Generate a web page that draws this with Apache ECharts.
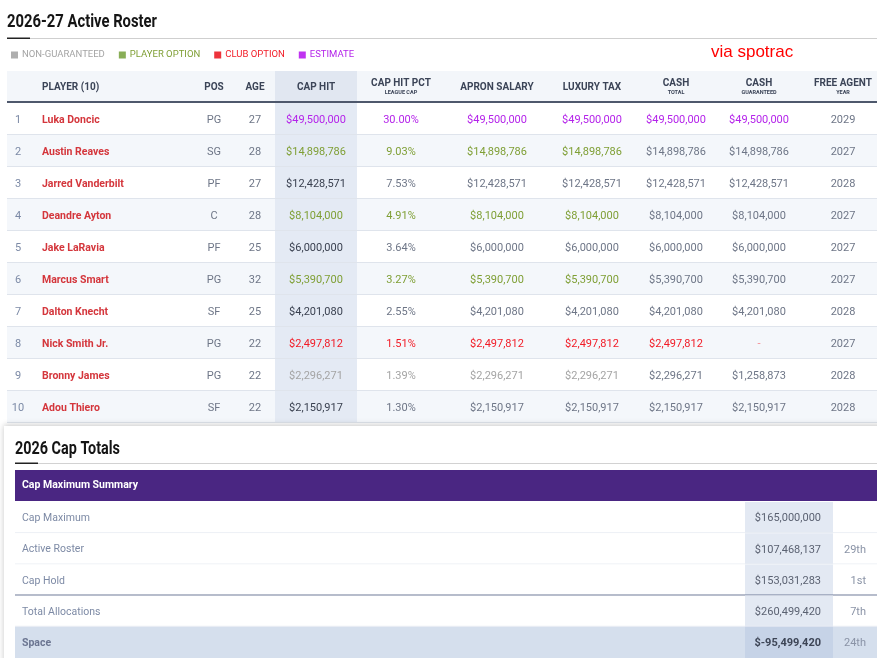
<!DOCTYPE html>
<html>
<head>
<meta charset="utf-8">
<script src="https://cdn.jsdelivr.net/npm/echarts@6/dist/echarts.min.js"></script>
<style>
html, body { margin: 0; padding: 0; background: #fff; }
#chart { width: 877px; height: 658px; }
</style>
</head>
<body>
<div id="chart"></div>
<script>
// roster data
var players = ['Luka Doncic', 'Austin Reaves', 'Jarred Vanderbilt', 'Deandre Ayton', 'Jake LaRavia',
               'Marcus Smart', 'Dalton Knecht', 'Nick Smith Jr.', 'Bronny James', 'Adou Thiero'];
var positions = ['PG', 'SG', 'PF', 'C', 'PF', 'PG', 'SF', 'PG', 'PG', 'SF'];
var ages = [27, 28, 27, 28, 25, 32, 25, 22, 22, 22];
var capHit = [49500000, 14898786, 12428571, 8104000, 6000000, 5390700, 4201080, 2497812, 2296271, 2150917];
var capPct = [30.00, 9.03, 7.53, 4.91, 3.64, 3.27, 2.55, 1.51, 1.39, 1.30];
var apronSalary = [49500000, 14898786, 12428571, 8104000, 6000000, 5390700, 4201080, 2497812, 2296271, 2150917];
var luxuryTax = [49500000, 14898786, 12428571, 8104000, 6000000, 5390700, 4201080, 2497812, 2296271, 2150917];
var cashTotal = [49500000, 14898786, 12428571, 8104000, 6000000, 5390700, 4201080, 2497812, 2296271, 2150917];
var cashGuaranteed = [49500000, 14898786, 12428571, 8104000, 6000000, 5390700, 4201080, null, 1258873, 2150917];
var freeAgentYear = [2029, 2027, 2028, 2027, 2027, 2027, 2028, 2027, 2028, 2028];
// '' = regular, 'player' = player option, 'club' = club option, 'nonguar', 'estimate'
var contractType = ['estimate', 'player', '', 'player', '', 'player', '', 'club', 'nonguar', ''];

var headerMain = ['', 'PLAYER (10)', 'POS', 'AGE', 'CAP HIT', 'CAP HIT PCT', 'APRON SALARY', 'LUXURY TAX', 'CASH', 'CASH', 'FREE AGENT'];
var headerSub = ['', '', '', '', '', 'LEAGUE CAP', '', '', 'TOTAL', 'GUARANTEED', 'YEAR'];

var legendNames = ['NON-GUARANTEED', 'PLAYER OPTION', 'CLUB OPTION', 'ESTIMATE'];

// cap totals
var summaryLabels = ['Cap Maximum', 'Active Roster', 'Cap Hold', 'Total Allocations', 'Space'];
var summaryValues = [165000000, 107468137, 153031283, 260499420, -95499420];
var summaryRanks = ['', '29th', '1st', '7th', '24th'];

// layout / style
var colX = [18, 42, 214, 255, 316, 401, 497, 592, 676, 759, 843];
var capHitCol = [275, 357];
var valueCol = [745, 833];
var FONT = 'Roboto, "Noto Sans", sans-serif';
var TITLE_FONT = 'bold 19px Roboto, sans-serif';
var typeColor = {
  nonguar: '#a4a4a4', player: '#7f9f35', club: '#f21b26', estimate: '#b423ea'
};
var legendSquare = ['#9a9a9a', '#6c9a2d', '#e8000b', '#b000ee'];
var GRAY = '#6e7687';
var DARK = '#3a4150';

function money(v) {
  return '$' + (v < 0 ? '-' : '') + Math.abs(v).toLocaleString('en-US');
}

// squeeze a heading to the condensed width seen on the page
var measureCtx = document.createElement('canvas').getContext('2d');
function squeeze(text, font, width) {
  measureCtx.font = font;
  return width / measureCtx.measureText(text).width;
}

// build roster cells
var rosterCells = [];
headerMain.forEach(function (t, i) {
  if (!t) return;
  var two = headerSub[i] !== '';
  rosterCells.push({ x: colX[i], row: 0, dy: two ? -4 : 0, text: t, color: '#3b4457',
    font: 'bold 10px ' + FONT, align: i === 1 ? 'left' : 'center' });
  if (two) {
    rosterCells.push({ x: colX[i], row: 0, dy: 6, text: headerSub[i], color: '#3b4457',
      font: 'bold 5.5px ' + FONT, align: 'center' });
  }
});
players.forEach(function (name, r) {
  var row = r + 1;
  var t = contractType[r];
  var main = t ? typeColor[t] : null;
  var cash = (t === 'estimate' || t === 'club') ? typeColor[t] : null;
  var f = '11px ' + FONT;
  function add(ci, text, color, font, align) {
    rosterCells.push({ x: colX[ci], row: row, dy: 1, text: text, color: color, font: font || f, align: align || 'center' });
  }
  add(0, String(r + 1), '#7c8aa6');
  add(1, name, '#d4363c', 'bold 10.5px ' + FONT, 'left');
  add(2, positions[r], GRAY);
  add(3, String(ages[r]), GRAY);
  add(4, money(capHit[r]), main || DARK);
  add(5, capPct[r].toFixed(2) + '%', main || GRAY);
  add(6, money(apronSalary[r]), main || GRAY);
  add(7, money(luxuryTax[r]), main || GRAY);
  add(8, money(cashTotal[r]), cash || GRAY);
  if (cashGuaranteed[r] === null) add(9, '-', '#f48a90');
  else add(9, money(cashGuaranteed[r]), cash || GRAY);
  add(10, String(freeAgentYear[r]), GRAY);
});

// build summary cells
var summaryCells = [];
summaryLabels.forEach(function (lab, r) {
  var last = r === summaryLabels.length - 1;
  summaryCells.push({ x: 22, row: r, dy: 1, text: lab, color: last ? '#6b7591' : '#7d8aa5',
    font: (last ? 'bold ' : '') + '10.5px ' + FONT, align: 'left' });
  summaryCells.push({ x: 821, row: r, dy: 1, text: money(summaryValues[r]), color: last ? '#3d4556' : '#5b6272',
    font: (last ? 'bold ' : '') + '11px ' + FONT, align: 'right' });
  if (summaryRanks[r]) {
    summaryCells.push({ x: 866, row: r, dy: 1, text: summaryRanks[r], color: '#8a93a6',
      font: '11px ' + FONT, align: 'right' });
  }
});

function textSeries(gridIdx, cells, z) {
  return {
    type: 'custom', xAxisIndex: gridIdx, yAxisIndex: gridIdx, z: z, silent: true,
    data: cells.map(function (c) { return [c.x, c.row + 0.5]; }),
    renderItem: function (params, api) {
      var c = cells[params.dataIndex];
      var p = api.coord([api.value(0), api.value(1)]);
      return {
        type: 'text', x: p[0], y: p[1] + (c.dy || 0),
        style: { text: c.text, fill: c.color, font: c.font, align: c.align, verticalAlign: 'middle' }
      };
    }
  };
}

// roster rows: backgrounds, cap hit column and separators
var rosterRows = [];
for (var i = 0; i <= players.length; i++) rosterRows.push([7, i]);
var rosterBg = {
  type: 'custom', xAxisIndex: 0, yAxisIndex: 0, z: 1, silent: true,
  data: rosterRows,
  renderItem: function (params, api) {
    var i = params.dataIndex;
    var a = api.coord([7, i]), b = api.coord([877, i + 1]);
    var c1 = api.coord([capHitCol[0], i]), c2 = api.coord([capHitCol[1], i + 1]);
    var fill = i === 0 ? '#f3f6fa' : (i % 2 === 0 ? '#f4f7fb' : '#ffffff');
    var children = [
      { type: 'rect', shape: { x: a[0], y: a[1], width: b[0] - a[0], height: b[1] - a[1] }, style: { fill: fill } },
      { type: 'rect', shape: { x: c1[0], y: c1[1], width: c2[0] - c1[0], height: c2[1] - c1[1] },
        style: { fill: i === 0 ? '#e1e7f1' : '#e4eaf4' } }
    ];
    if (i === 0) {
      children.push({ type: 'rect', shape: { x: a[0], y: b[1] - 2, width: b[0] - a[0], height: 2 }, style: { fill: '#4e586c' } });
    } else {
      children.push({ type: 'rect', shape: { x: a[0], y: b[1] - 1, width: b[0] - a[0], height: 1 }, style: { fill: '#dfe4ec' } });
    }
    return { type: 'group', children: children };
  }
};

var summaryRows = summaryLabels.map(function (l, i) { return [15, i]; });
var summaryBg = {
  type: 'custom', xAxisIndex: 1, yAxisIndex: 1, z: 10, silent: true,
  data: summaryRows,
  renderItem: function (params, api) {
    var i = params.dataIndex;
    var last = i === summaryLabels.length - 1;
    var a = api.coord([15, i]), b = api.coord([877, i + 1]);
    var v1 = api.coord([valueCol[0], i]), v2 = api.coord([valueCol[1], i + 1]);
    var children = [
      { type: 'rect', shape: { x: a[0], y: a[1], width: b[0] - a[0], height: b[1] - a[1] }, style: { fill: last ? '#d5dfed' : '#ffffff' } },
      { type: 'rect', shape: { x: v1[0], y: v1[1], width: v2[0] - v1[0], height: v2[1] - v1[1] }, style: { fill: last ? '#c6d3e7' : '#e3e9f3' } }
    ];
    if (i === 2) {
      children.push({ type: 'rect', shape: { x: a[0], y: b[1] - 1, width: b[0] - a[0], height: 2 }, style: { fill: '#6e7b98' } });
    } else if (!last) {
      children.push({ type: 'rect', shape: { x: a[0], y: b[1] - 1, width: b[0] - a[0], height: 1 }, style: { fill: '#e9edf3' } });
    }
    return { type: 'group', children: children };
  }
};

var legendSeries = legendNames.map(function (n, i) {
  return { type: 'scatter', name: n, xAxisIndex: 0, yAxisIndex: 0, data: [], itemStyle: { color: legendSquare[i] } };
});
var legendTextColor = [typeColor.nonguar, typeColor.player, typeColor.club, typeColor.estimate];

var title1 = '2026-27 Active Roster';
var title2 = '2026 Cap Totals';

var chart = echarts.init(document.getElementById('chart'));
chart.setOption({
  animation: false,
  grid: [
    { left: 0, right: 0, top: 71, height: 352 },
    { left: 0, right: 0, top: 502, height: 158 }
  ],
  xAxis: [
    { type: 'value', gridIndex: 0, min: 0, max: 877, show: false },
    { type: 'value', gridIndex: 1, min: 0, max: 877, show: false }
  ],
  yAxis: [
    { type: 'value', gridIndex: 0, min: 0, max: players.length + 1, inverse: true, show: false },
    { type: 'value', gridIndex: 1, min: 0, max: summaryLabels.length, inverse: true, show: false }
  ],
  legend: {
    left: 6, top: 45, icon: 'rect', itemWidth: 7, itemHeight: 7, itemGap: 14,
    selectedMode: false,
    textStyle: { fontFamily: FONT, fontSize: 9.5, padding: [0, 0, 0, -1] },
    data: legendNames.map(function (n, i) {
      return { name: n, textStyle: { color: legendTextColor[i] } };
    })
  },
  graphic: [
    { type: 'text', x: 7, y: 22, z: 1, scaleX: squeeze(title1, TITLE_FONT, 150),
      style: { text: title1, fill: '#151515', font: TITLE_FONT, verticalAlign: 'middle' } },
    { type: 'rect', z: 1, shape: { x: 7, y: 38, width: 870, height: 1 }, style: { fill: '#cfcfcf' } },
    { type: 'rect', z: 1, shape: { x: 7, y: 37.5, width: 23, height: 1.5 }, style: { fill: '#222' } },
    { type: 'text', left: 711, top: 44, z: 1, style: { text: 'via spotrac', fill: '#ff0000', font: '17px "Liberation Sans", Arial, sans-serif' } },
    { type: 'rect', z: 5, shape: { x: 4, y: 426, width: 890, height: 250 },
      style: { fill: '#ffffff', shadowBlur: 6, shadowColor: 'rgba(0,0,0,0.22)', shadowOffsetY: -1 } },
    { type: 'text', x: 15, y: 449, z: 6, scaleX: squeeze(title2, TITLE_FONT, 105),
      style: { text: title2, fill: '#151515', font: TITLE_FONT, verticalAlign: 'middle' } },
    { type: 'rect', z: 6, shape: { x: 15, y: 463, width: 862, height: 1 }, style: { fill: '#d2d2d2' } },
    { type: 'rect', z: 6, shape: { x: 15, y: 462.5, width: 23, height: 1.5 }, style: { fill: '#222' } },
    { type: 'rect', z: 6, shape: { x: 15, y: 470, width: 862, height: 31 }, style: { fill: '#4a2682' } },
    { type: 'text', left: 22, top: 480, z: 6, style: { text: 'Cap Maximum Summary', fill: '#ffffff', font: 'bold 10.5px ' + FONT } }
  ],
  series: [rosterBg, textSeries(0, rosterCells, 2), summaryBg, textSeries(1, summaryCells, 11)].concat(legendSeries)
});
</script>
</body>
</html>
